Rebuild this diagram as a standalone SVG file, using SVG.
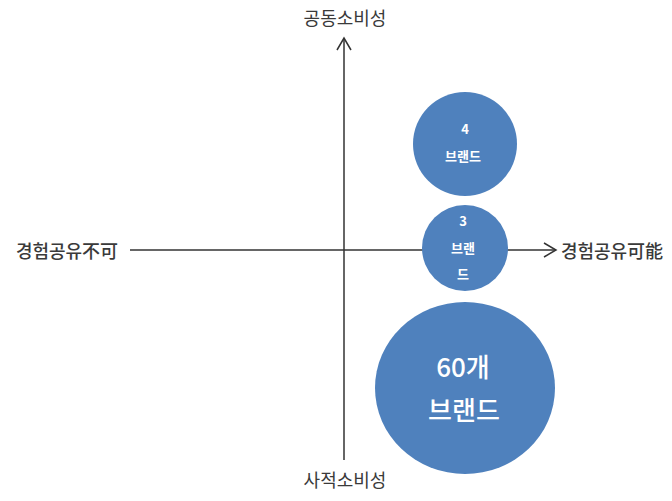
<svg xmlns="http://www.w3.org/2000/svg" width="672" height="501" viewBox="0 0 672 501">
<style>
.lbl{font-family:"Noto Sans CJK KR","Noto Sans CJK SC",sans-serif;font-size:18px;fill:#3a3a3a;text-anchor:middle;font-weight:500}
.lv{font-weight:normal}
.ax{stroke:#333;stroke-width:1.5;fill:none}
.c{fill:#4F81BD}
.t{font-family:"Noto Sans CJK KR",sans-serif;fill:#fff;text-anchor:middle;font-weight:bold;font-size:13px}
.tb{font-family:"Noto Sans CJK KR",sans-serif;fill:#fff;text-anchor:middle;font-weight:500;font-size:26px}
</style>
<rect width="672" height="501" fill="#fff"/>
<g id="connectors">
<line class="ax" x1="344" y1="460" x2="344" y2="38"/>
<polyline class="ax" points="337,50 344,38 351,50"/>
<line class="ax" x1="130" y1="250" x2="556" y2="250"/>
<polyline class="ax" points="544,243 556,250 544,257"/>
</g>
<g id="axis-labels">
<text class="lbl lv" x="345" y="25">공동소비성</text>
<text class="lbl lv" x="345" y="487">사적소비성</text>
<text class="lbl" x="67" y="258">경험공유不可</text>
<text class="lbl" x="612" y="258">경험공유可能</text>
</g>
<g id="node-4">
<circle class="c" cx="465" cy="144" r="52"/>
<text class="t" x="465" y="134">4</text>
<text class="t" x="463" y="161">브랜드</text>
</g>
<g id="node-3">
<circle class="c" cx="465" cy="248" r="43"/>
<text class="t" x="463" y="226">3</text>
<text class="t" x="463" y="253">브랜</text>
<text class="t" x="463" y="279">드</text>
</g>
<g id="node-60">
<ellipse class="c" cx="465" cy="388" rx="90" ry="86"/>
<text class="tb" x="463" y="377">60개</text>
<text class="tb" x="464" y="420">브랜드</text>
</g>
</svg>
